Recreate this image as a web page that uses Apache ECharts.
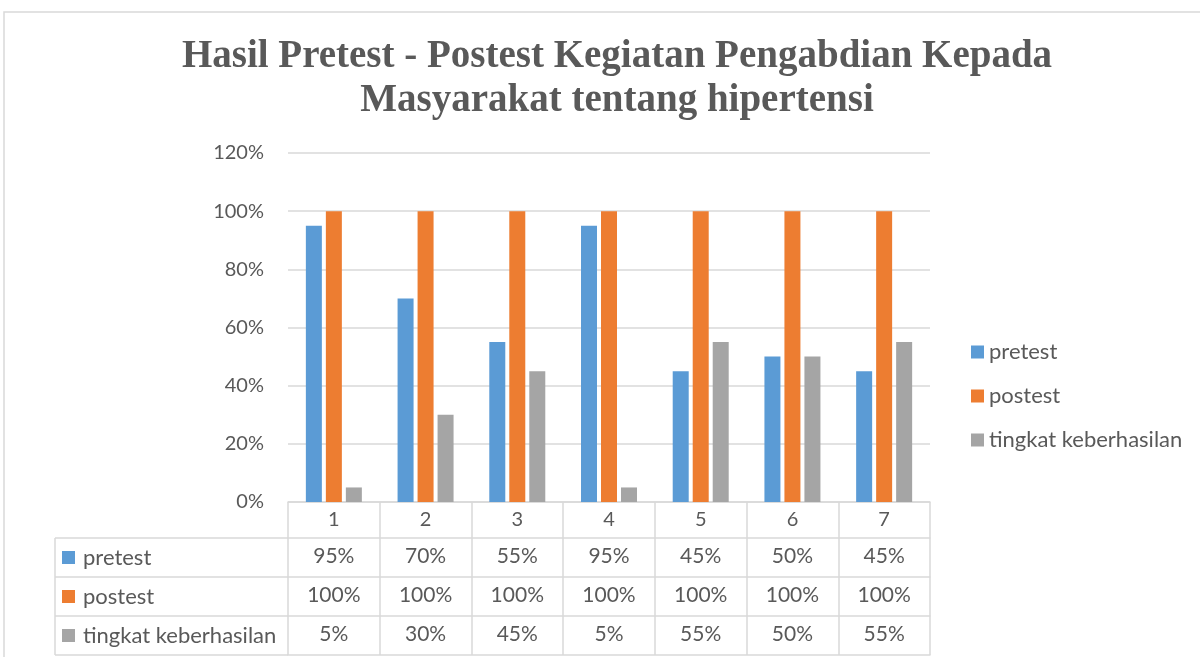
<!DOCTYPE html>
<html><head><meta charset="utf-8">
<script src="https://cdn.jsdelivr.net/npm/echarts@6/dist/echarts.min.js"></script>
<style>html,body{margin:0;padding:0;background:#fff}#c{width:1200px;height:657px}</style>
</head><body><div id="c"></div>
<script>
const categories = ['1','2','3','4','5','6','7'];
const seriesNames = ['pretest','postest','tingkat keberhasilan'];
const pretest = [0.95,0.70,0.55,0.95,0.45,0.50,0.45];
const postest = [1,1,1,1,1,1,1];
const tingkat = [0.05,0.30,0.45,0.05,0.55,0.50,0.55];
const yTicks = [0,0.2,0.4,0.6,0.8,1.0,1.2];
const colors = ['#5B9BD5','#ED7D31','#A5A5A5'];
const titleText = 'Hasil Pretest - Postest Kegiatan Pengabdian Kepada\nMasyarakat tentang hipertensi';

const pct = v => Math.round(v*100) + '%';
const TXT = '#595959', LINE = '#D9D9D9', FONT = 'Lato';
const rows = [pretest, postest, tingkat];

const chart = echarts.init(document.getElementById('c'));
const gridLeft = 288, gridRight = 930, gridTop = 153, gridBottom = 502;
const rowTops = [538, 577, 616, 655];

const xAxes = [{
  type:'category', data:categories, position:'bottom', gridIndex:0,
  axisLine:{show:true, lineStyle:{color:LINE, width:1.5}},
  axisTick:{show:true, interval:0, length:rowTops[3]-gridBottom, lineStyle:{color:LINE, width:1.5}},
  axisLabel:{color:TXT, fontSize:20, fontFamily:FONT, margin:8, interval:0}
}];
rows.forEach((arr, r) => {
  xAxes.push({
    type:'category', data:categories, position:'bottom', gridIndex:0,
    offset: rowTops[r]-gridBottom,
    axisLine:{show:true, lineStyle:{color:LINE, width:1.5}},
    axisTick:{show:false},
    axisLabel:{color:TXT, fontSize:21, fontFamily:FONT, margin:8, interval:0,
      formatter:(v, i) => pct(arr[i])}
  });
});
xAxes.push({
  type:'category', data:categories, position:'bottom', gridIndex:0,
  offset: rowTops[3]-gridBottom,
  axisLine:{show:true, lineStyle:{color:LINE, width:1.5}},
  axisTick:{show:false}, axisLabel:{show:false}
});

const graphics = [
  {type:'rect', shape:{x:4, y:12, width:1200, height:660}, style:{fill:'none', stroke:LINE, lineWidth:1.5}, silent:true, z:-1},
  {type:'line', shape:{x1:55, y1:rowTops[0], x2:55, y2:rowTops[3]}, style:{stroke:LINE, lineWidth:1.5}}
];
rowTops.forEach(y => graphics.push({type:'line', shape:{x1:55, y1:y, x2:gridLeft, y2:y}, style:{stroke:LINE, lineWidth:1.5}}));
seriesNames.forEach((n, r) => {
  const cy = (rowTops[r]+rowTops[r+1])/2;
  graphics.push({type:'rect', shape:{x:62, y:cy-6.5, width:13, height:13}, style:{fill:colors[r]}});
  graphics.push({type:'text', x:83, y:cy, style:{text:n, fill:TXT, font:'22px '+FONT, textVerticalAlign:'middle', verticalAlign:'middle'}});
});

chart.setOption({
  animation:false,
  backgroundColor:'#fff',
  title:{text:titleText, left:612, top:30, textAlign:'center',
    textStyle:{fontFamily:'Liberation Serif', fontWeight:'bold', fontSize:39, color:TXT, lineHeight:44}},
  legend:{orient:'vertical', left:966, top:336, itemWidth:13, itemHeight:13, itemGap:22, icon:'rect',
    data:seriesNames, textStyle:{color:TXT, fontSize:22, fontFamily:FONT}},
  grid:{left:gridLeft, right:1200-gridRight, top:gridTop, bottom:657-gridBottom, containLabel:false},
  xAxis:xAxes,
  yAxis:{type:'value', min:0, max:1.2, interval:0.2,
    axisLine:{show:false}, axisTick:{show:false},
    splitLine:{lineStyle:{color:LINE, width:1.5}},
    axisLabel:{color:TXT, fontSize:20, fontFamily:FONT, margin:24, formatter:v => pct(v)}},
  series:[pretest, postest, tingkat].map((d, i) => ({
    name:seriesNames[i], type:'bar', data:d, barWidth:16, barGap:'25%',
    itemStyle:{color:colors[i]}, xAxisIndex:0
  })),
  graphic:graphics
});
</script></body></html>
